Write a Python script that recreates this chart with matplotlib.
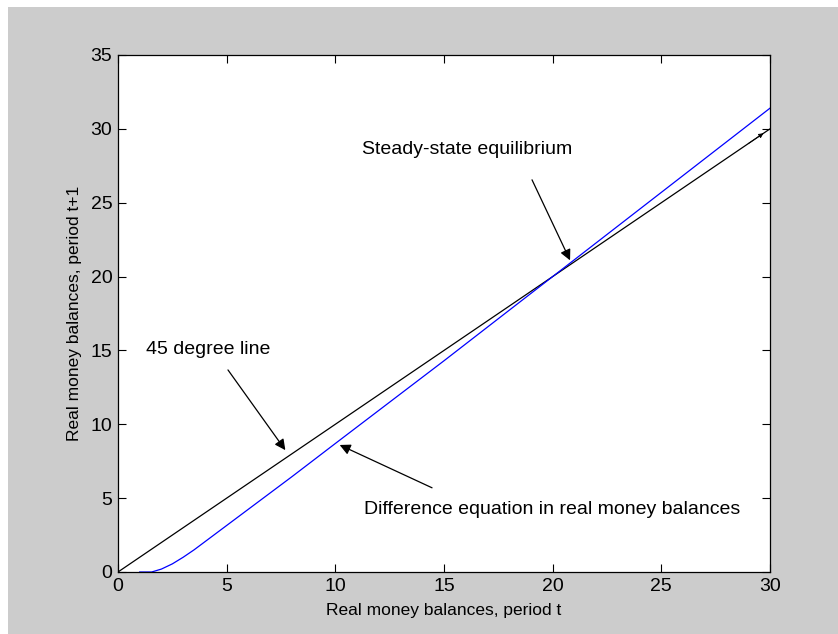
import numpy as np
import matplotlib
matplotlib.use("Agg")
import matplotlib.pyplot as plt
from matplotlib.patches import Rectangle

# real money balances, period t vs period t+1
m_t = [0.0, 30.0]
m_45 = [0.0, 30.0]

m_curve_x = [1.0, 1.55, 2.0, 2.5, 3.0, 3.5, 4.0, 5.0, 6.0, 7.0, 8.0, 10.0, 15.0, 20.0, 25.0, 30.0]
m_curve_y = [0.0, 0.0, 0.2, 0.55, 1.0, 1.5, 2.05, 3.15, 4.25, 5.35, 6.45, 8.7, 14.3, 20.0, 25.7, 31.4]

text_font = ["Liberation Sans", "DejaVu Sans"]

fig = plt.figure(figsize=(8.38, 6.34), dpi=100)
fig.patch.set_facecolor("white")
fig.patches.append(Rectangle((8 / 838, 0), 1, 1 - 7 / 634, transform=fig.transFigure,
                             facecolor="#cccccc", edgecolor="none", zorder=-10))

ax = fig.add_axes([118 / 838, 62 / 634, 652 / 838, 517 / 634])
ax.plot(m_t, m_45, color="black", lw=0.9)
ax.plot(m_curve_x, m_curve_y, color="blue", lw=0.9)
# small head at the end of the 45 degree line
ax.annotate("", xy=(m_t[1] - 0.3, m_45[1] - 0.3), xytext=(m_t[1] - 1.0, m_45[1] - 1.0),
            arrowprops=dict(arrowstyle="-|>", color="black", lw=0.6, mutation_scale=7,
                            shrinkA=0, shrinkB=0))

ax.set_xlim(0, 30)
ax.set_ylim(0, 35)
ax.set_xticks(range(0, 31, 5))
ax.set_yticks(range(0, 36, 5))
ax.tick_params(direction="in", top=True, right=True, length=6, width=0.8, pad=4)
for lab in ax.get_xticklabels() + ax.get_yticklabels():
    lab.set_family(text_font)
    lab.set_fontsize(14)
for s in ax.spines.values():
    s.set_linewidth(0.9)

ax.set_xlabel("Real money balances, period t", family=text_font, fontsize=12.5, labelpad=6)
ax.set_ylabel("Real money balances, period t+1", family=text_font, fontsize=12.5, labelpad=6)

arrow = dict(arrowstyle="-|>", color="black", lw=0.9, mutation_scale=16, shrinkA=0, shrinkB=0)

ax.text(16.06, 28.57, "Steady-state equilibrium", family=text_font, fontsize=14,
        ha="center", va="center")
ax.annotate("", xy=(20.8, 21.1), xytext=(19.05, 26.55), arrowprops=arrow)

ax.text(4.14, 15.03, "45 degree line", family=text_font, fontsize=14,
        ha="center", va="center")
ax.annotate("", xy=(7.7, 8.25), xytext=(5.06, 13.68), arrowprops=arrow)

ax.text(19.97, 4.2, "Difference equation in real money balances", family=text_font,
        fontsize=14, ha="center", va="center")
ax.annotate("", xy=(10.2, 8.6), xytext=(14.45, 5.7), arrowprops=arrow)

fig.savefig("out.png", dpi=100, facecolor=fig.get_facecolor())
